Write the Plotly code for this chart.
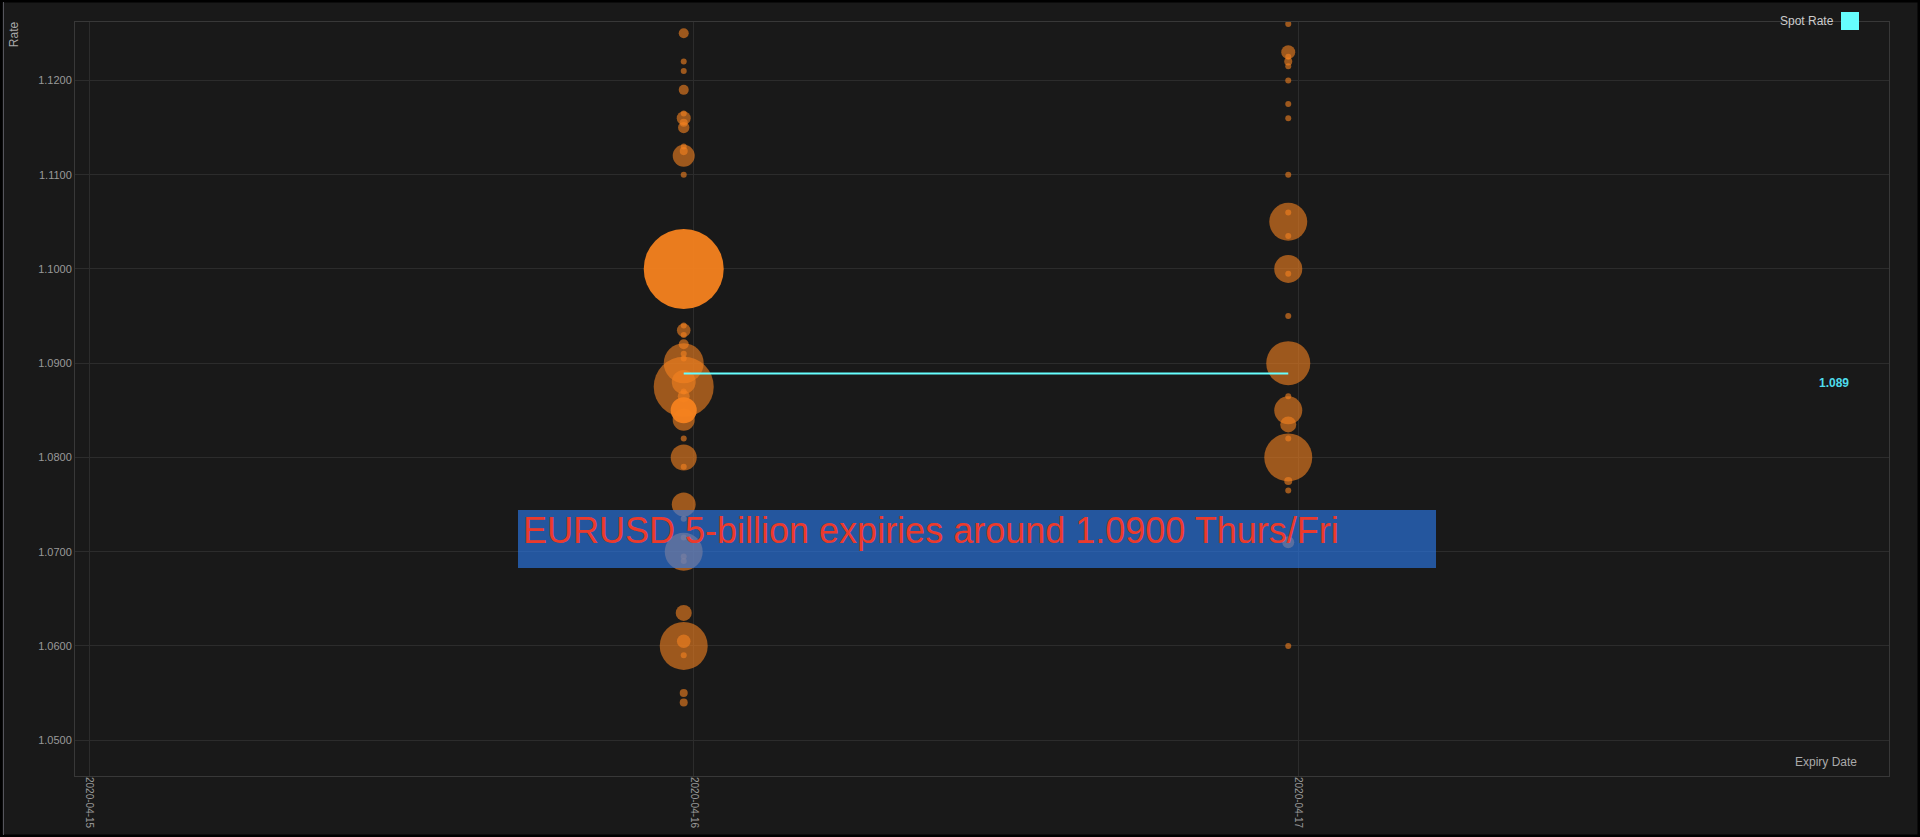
import plotly.graph_objects as go

# ---------------- data ----------------
expiry_dates = ["2020-04-15T23:36", "2020-04-16T23:36"]

# Thursday expiries (plotted at first expiry date)
rates_thu = [1.1250, 1.1220, 1.1210, 1.1190, 1.1165, 1.1160, 1.1155, 1.1150, 1.1130, 1.1125,
             1.1120, 1.1100, 1.0940, 1.0935, 1.0930, 1.0920, 1.0910, 1.0905, 1.0900, 1.0875,
             1.0880, 1.0870, 1.0865, 1.0840, 1.0820, 1.0800, 1.0790, 1.0750, 1.0735, 1.0715,
             1.0700, 1.0695, 1.0690, 1.0635, 1.0605, 1.0600, 1.0590, 1.0550, 1.0540]
amounts_thu = [70, 11, 11, 70, 11, 137, 45, 90, 11, 45,
               339, 25, 11, 130, 17, 70, 11, 25, 1120, 2520,
               400, 25, 100, 340, 11, 475, 11, 400, 11, 11,
               1010, 17, 17, 180, 130, 1610, 11, 45, 45]

# large Thursday strikes (shown brighter)
rates_thu_major = [1.1000, 1.0850]
amounts_thu_major = [4480, 475]

# Friday expiries
rates_fri = [1.1260, 1.1230, 1.1225, 1.1220, 1.1215, 1.1200, 1.1175, 1.1160, 1.1100, 1.1060,
             1.1050, 1.1035, 1.1000, 1.0995, 1.0950, 1.0900, 1.0865, 1.0850, 1.0835, 1.0820,
             1.0800, 1.0775, 1.0765, 1.0710, 1.0600]
amounts_fri = [11, 137, 25, 45, 11, 11, 25, 11, 11, 11,
               1010, 25, 550, 11, 25, 1355, 11, 550, 180, 11,
               1610, 45, 11, 100, 11]

spot_rate = 1.0889
x_tick_labels = ["2020-04-15", "2020-04-16", "2020-04-17"]
headline = "EURUSD 5-billion expiries around 1.0900 Thurs/Fri"

# ---------------- style ----------------
FONT = "Liberation Sans, Arial, sans-serif"
ORANGE = "#f5821f"
CYAN = "#66ffff"
BG = "#191919"
SIZEREF = 1.4

W, H = 1920, 837
ML, MR, MT, MB = 75, 31, 22, 61
PW, PH = W - ML - MR, H - MT - MB


def px_x(x):
    return (x - ML) / PW


def px_y(y):
    return (H - MB - y) / PH


fig = go.Figure()


def bubbles(date, rates, amounts, opacity, name):
    fig.add_trace(go.Scatter(
        x=[date] * len(rates), y=rates, mode="markers", name=name,
        showlegend=False,
        marker=dict(size=amounts, sizemode="area", sizeref=SIZEREF, sizemin=3,
                    color=ORANGE, opacity=opacity, line=dict(width=0)),
        hovertemplate="%{y:.4f}<br>%{marker.size}m<extra></extra>",
    ))


bubbles(expiry_dates[0], rates_thu, amounts_thu, 0.6, "Thu")
bubbles(expiry_dates[1], rates_fri, amounts_fri, 0.6, "Fri")
bubbles(expiry_dates[0], rates_thu_major, amounts_thu_major, 0.95, "Thu major")

fig.add_trace(go.Scatter(
    x=expiry_dates, y=[spot_rate] * len(expiry_dates), mode="lines",
    name="Spot Rate", showlegend=False,
    line=dict(color=CYAN, width=2),
))

annotations = [
    dict(text="Rate", x=px_x(13.7), y=px_y(34.5), xref="paper", yref="paper",
         textangle=-90, showarrow=False, font=dict(size=12, color="#aaaaaa", family=FONT),
         xanchor="center", yanchor="middle"),
    dict(text="Expiry Date", x=px_x(1859), y=px_y(762), xref="paper", yref="paper",
         showarrow=False, font=dict(size=12, color="#aaaaaa", family=FONT),
         xanchor="right", yanchor="middle"),
    dict(text="Spot Rate", x=px_x(1836), y=px_y(21), xref="paper", yref="paper",
         showarrow=False, font=dict(size=12, color="#cccccc", family=FONT),
         xanchor="right", yanchor="middle"),
    dict(text=f"<b>{spot_rate:.3f}</b>", x=px_x(1834), y=spot_rate, xref="paper", yref="y",
         yshift=-9, showarrow=False, font=dict(size=12, color="#4fdcec", family=FONT),
         xanchor="center", yanchor="middle"),
    dict(text=headline, x=px_x(521), y=px_y(530), xref="paper", yref="paper",
         xanchor="left", yanchor="middle", showarrow=False,
         font=dict(size=36, color="#ec3a2c", family=FONT)),
]

shapes = [
    # headline box (translucent, above the bubbles)
    dict(type="rect", xref="paper", yref="paper", layer="above",
         x0=px_x(518), x1=px_x(1436), y0=px_y(568), y1=px_y(510),
         fillcolor="rgba(44,127,247,0.6)", line=dict(width=0)),
    # legend swatch
    dict(type="rect", xref="paper", yref="paper", x0=px_x(1841), x1=px_x(1859),
         y0=px_y(30), y1=px_y(12), fillcolor=CYAN, line=dict(width=0)),
    # outer frame
    dict(type="rect", xref="paper", yref="paper", x0=px_x(1), x1=px_x(W - 1),
         y0=px_y(H - 1), y1=px_y(1), fillcolor="rgba(0,0,0,0)",
         line=dict(color="#000000", width=3)),
    dict(type="line", xref="paper", yref="paper", x0=px_x(3.5), x1=px_x(3.5),
         y0=px_y(H - 2), y1=px_y(2), line=dict(color="#55555c", width=1)),
]

fig.update_layout(
    width=W, height=H,
    margin=dict(l=ML, r=MR, t=MT, b=MB, pad=0, autoexpand=False),
    paper_bgcolor=BG, plot_bgcolor=BG,
    font=dict(family=FONT, color="#999999", size=11),
    showlegend=False,
    annotations=annotations,
    shapes=shapes,
    xaxis=dict(
        type="date", range=["2020-04-14T23:26", "2020-04-17T23:27"],
        tickvals=x_tick_labels, ticktext=x_tick_labels, tickangle=90,
        tickfont=dict(size=10, color="#999999"), automargin=False,
        ticklabelstandoff=-2,
        showgrid=True, gridcolor="#2c2c2c", gridwidth=1,
        showline=True, linecolor="#383838", mirror=True, zeroline=False, ticks="",
    ),
    yaxis=dict(
        range=[1.0462, 1.1262], tick0=1.05, dtick=0.01, tickformat=".4f",
        tickfont=dict(size=11, color="#999999"), automargin=False,
        showgrid=True, gridcolor="#2c2c2c", gridwidth=1,
        showline=True, linecolor="#383838", mirror=True, zeroline=False, ticks="",
    ),
)

fig.write_html(
    "out.html",
    config={"displayModeBar": False},
    post_script="document.body.style.margin='0';document.body.style.overflow='hidden';",
)
